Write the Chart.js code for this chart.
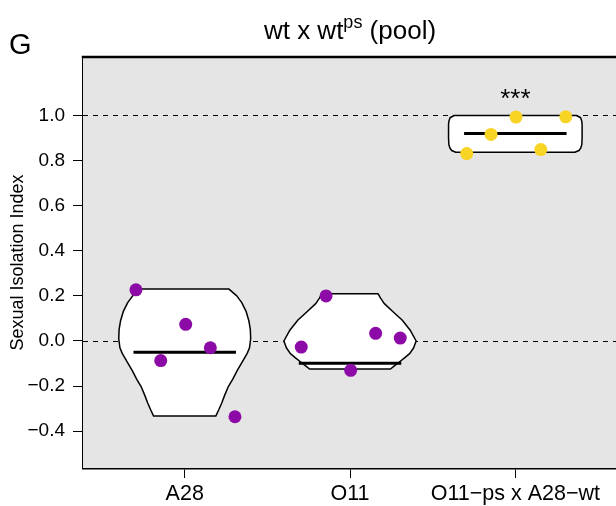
<!DOCTYPE html>
<html lang="en">
<head>
    <meta charset="UTF-8">
    <title>wt x wt ps (pool)</title>
    <script src="https://cdn.jsdelivr.net/npm/chart.js"></script>
    <style>
        html, body { margin: 0; padding: 0; background: #ffffff; overflow: hidden; }
        #chart { display: block; }
    </style>
</head>
<body>
    <canvas id="chart" width="616" height="506"></canvas>

    <script>
        // categories and their positions on the x axis
        const categories = ['A28', 'O11', 'O11\u2212ps x A28\u2212wt'];
        const groupPos = [1, 2, 3];
        const yTicks = [-0.4, -0.2, 0.0, 0.2, 0.4, 0.6, 0.8, 1.0];
        const refLines = [0, 1];

        // individual points (jittered x, value)
        const a28X = [0.705, 1.006, 1.155, 0.855, 1.304];
        const a28Y = [0.227, 0.074, -0.030, -0.087, -0.336];
        const o11X = [1.855, 1.705, 2.155, 2.304, 2.004];
        const o11Y = [0.200, -0.027, 0.034, 0.013, -0.130];
        const psX = [2.706, 2.853, 3.004, 3.305, 3.154];
        const psY = [0.831, 0.916, 0.993, 0.994, 0.849];

        // medians
        const medians = [-0.050, -0.099, 0.920];
        const medianHalf = 0.31;

        // violin outlines: value and half width (x units)
        const a28ViolinY = [0.231, 0.20, 0.17, 0.13, 0.09, 0.05, 0.01, -0.03, -0.055, -0.09, -0.13, -0.17, -0.205, -0.24, -0.275, -0.305, -0.333];
        const a28ViolinW = [0.266, 0.315, 0.345, 0.372, 0.388, 0.397, 0.399, 0.392, 0.378, 0.350, 0.318, 0.290, 0.262, 0.242, 0.224, 0.206, 0.188];
        const o11ViolinY = [0.209, 0.19, 0.167, 0.13, 0.093, 0.049, 0.0, -0.03, -0.055, -0.075, -0.092, -0.11, -0.124];
        const o11ViolinW = [0.170, 0.185, 0.206, 0.260, 0.315, 0.363, 0.400, 0.385, 0.362, 0.330, 0.300, 0.268, 0.245];
        const psViolinY = [1.0, 0.99, 0.975, 0.96, 0.90, 0.87, 0.855, 0.845, 0.837];
        const psViolinW = [0.37, 0.395, 0.402, 0.404, 0.404, 0.402, 0.395, 0.385, 0.36];

        const violins = [
            { pos: groupPos[0], ys: a28ViolinY, ws: a28ViolinW },
            { pos: groupPos[1], ys: o11ViolinY, ws: o11ViolinW },
            { pos: groupPos[2], ys: psViolinY, ws: psViolinW }
        ];

        const purple = '#8C0AA6';
        const yellow = '#F8D424';
        const panelGrey = '#E5E5E5';
        const fontFamily = '"Liberation Sans", Arial, Helvetica, sans-serif';

        function toPoints(xs, ys) {
            return xs.map((x, i) => ({ x: x, y: ys[i] }));
        }

        const medianSets = medians.map((m, i) => ({
            type: 'line',
            data: [{ x: groupPos[i] - medianHalf, y: m }, { x: groupPos[i] + medianHalf, y: m }],
            borderColor: '#000000',
            borderWidth: 3,
            pointRadius: 0,
            order: 2
        }));

        // background, dashed reference lines, violins, title texts
        const decor = {
            id: 'decor',
            beforeDatasetsDraw(chart) {
                const { ctx, chartArea, scales } = chart;
                const x = scales.x, y = scales.y;
                ctx.save();
                ctx.fillStyle = panelGrey;
                ctx.fillRect(chartArea.left, chartArea.top, chart.width - chartArea.left, chartArea.bottom - chartArea.top);

                ctx.strokeStyle = '#000000';
                ctx.lineWidth = 1;
                ctx.setLineDash([5, 5]);
                refLines.forEach(v => {
                    const py = Math.round(y.getPixelForValue(v)) + 0.5;
                    ctx.beginPath();
                    ctx.moveTo(chartArea.left, py);
                    ctx.lineTo(chart.width, py);
                    ctx.stroke();
                });
                ctx.setLineDash([]);

                violins.forEach(v => {
                    ctx.beginPath();
                    v.ys.forEach((val, i) => {
                        const px = x.getPixelForValue(v.pos + v.ws[i]);
                        const py = y.getPixelForValue(val);
                        if (i === 0) ctx.moveTo(px, py); else ctx.lineTo(px, py);
                    });
                    for (let i = v.ys.length - 1; i >= 0; i--) {
                        ctx.lineTo(x.getPixelForValue(v.pos - v.ws[i]), y.getPixelForValue(v.ys[i]));
                    }
                    ctx.closePath();
                    ctx.fillStyle = '#ffffff';
                    ctx.fill();
                    ctx.lineWidth = 1.5;
                    ctx.lineJoin = 'round';
                    ctx.strokeStyle = '#000000';
                    ctx.stroke();
                });
                ctx.restore();
            },
            afterDraw(chart) {
                const { ctx, chartArea, scales } = chart;
                ctx.save();
                // top border of the panel
                ctx.strokeStyle = '#000000';
                ctx.lineWidth = 2.5;
                ctx.beginPath();
                ctx.moveTo(chartArea.left - 1.25, chartArea.top);
                ctx.lineTo(chart.width, chartArea.top);
                ctx.stroke();

                ctx.fillStyle = '#000000';
                ctx.textBaseline = 'alphabetic';

                // panel letter
                ctx.font = '29px ' + fontFamily;
                ctx.textAlign = 'left';
                ctx.fillText('G', 9, 54);

                // title with superscript
                const mainFont = '26px ' + fontFamily;
                const supFont = '18px ' + fontFamily;
                const p1 = 'wt x wt', p2 = 'ps', p3 = ' (pool)';
                ctx.font = mainFont;
                const w1 = ctx.measureText(p1).width, w3 = ctx.measureText(p3).width;
                ctx.font = supFont;
                const w2 = ctx.measureText(p2).width;
                const cx = (chartArea.left + 617) / 2;
                let tx = cx - (w1 + w2 + w3) / 2;
                const base = 39;
                ctx.font = mainFont;
                ctx.fillText(p1, tx, base);
                tx += w1;
                ctx.font = supFont;
                ctx.fillText(p2, tx, base - 11);
                tx += w2;
                ctx.font = mainFont;
                ctx.fillText(p3, tx, base);

                // significance stars
                ctx.font = '26px ' + fontFamily;
                ctx.textAlign = 'center';
                ctx.fillText('***', scales.x.getPixelForValue(groupPos[2]), scales.y.getPixelForValue(1.0) - 8);
                ctx.restore();
            }
        };

        new Chart(document.getElementById('chart'), {
            type: 'scatter',
            data: {
                datasets: [
                    { data: toPoints(a28X, a28Y), backgroundColor: purple, order: 0 },
                    { data: toPoints(o11X, o11Y), backgroundColor: purple, order: 0 },
                    { data: toPoints(psX, psY), backgroundColor: yellow, order: 0 },
                    ...medianSets
                ]
            },
            options: {
                responsive: false,
                animation: false,
                devicePixelRatio: 1,
                layout: { autoPadding: false, padding: { top: 57, left: 0, right: 0, bottom: 0 } },
                elements: { point: { radius: 6.5, borderWidth: 0, hoverRadius: 6.5 } },
                plugins: {
                    legend: { display: false },
                    tooltip: { enabled: false }
                },
                scales: {
                    x: {
                        type: 'linear',
                        min: 0.3847,
                        max: 3.609,
                        afterBuildTicks: scale => { scale.ticks = groupPos.map(v => ({ value: v })); },
                        afterFit: scale => {
                            scale.height = 38;
                            scale.paddingLeft = 0;
                            scale.paddingRight = 0;
                        },
                        ticks: {
                            callback: (v) => categories[groupPos.indexOf(v)],
                            color: '#000000',
                            font: { family: fontFamily, size: 21.5 },
                            padding: 3,
                            maxRotation: 0,
                            autoSkip: false
                        },
                        grid: { drawOnChartArea: false, tickLength: 10, color: '#000000', lineWidth: 1 },
                        border: { color: '#000000', width: 2.5 }
                    },
                    y: {
                        min: -0.5632,
                        max: 1.2594,
                        afterBuildTicks: scale => { scale.ticks = yTicks.map(v => ({ value: v })); },
                        afterFit: scale => {
                            scale.width = 83;
                            scale.paddingTop = 0;
                            scale.paddingBottom = 0;
                        },
                        ticks: {
                            callback: (v) => (v < 0 ? '\u2212' : '') + Math.abs(v).toFixed(1),
                            color: '#000000',
                            font: { family: fontFamily, size: 19 },
                            padding: 8
                        },
                        grid: { drawOnChartArea: false, tickLength: 10, color: '#000000', lineWidth: 1 },
                        border: { color: '#000000', width: 2.5 },
                        title: {
                            display: true,
                            text: 'Sexual Isolation Index',
                            color: '#000000',
                            font: { family: fontFamily, size: 18 },
                            padding: { top: 7, bottom: 0 }
                        }
                    }
                }
            },
            plugins: [decor]
        });
    </script>
</body>
</html>
